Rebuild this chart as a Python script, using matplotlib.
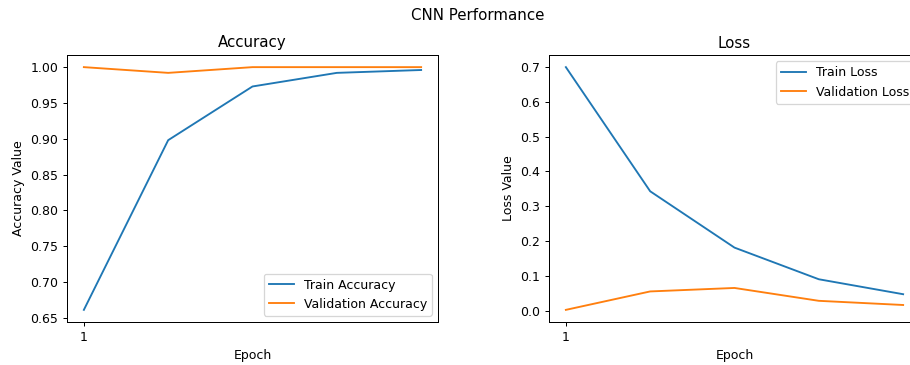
import matplotlib
matplotlib.use("Agg")
import matplotlib.pyplot as plt

epochs = [1, 2, 3, 4, 5]
train_acc = [0.661, 0.898, 0.973, 0.992, 0.996]
val_acc = [1.000, 0.992, 1.000, 1.000, 1.000]
train_loss = [0.700, 0.343, 0.181, 0.090, 0.047]
val_loss = [0.002, 0.055, 0.065, 0.028, 0.016]
xtick_vals = [1]

dpi = 90
fig = plt.figure(figsize=(910 / dpi, 365 / dpi), dpi=dpi)
ax1 = fig.add_axes([67 / 910, 43 / 365, 371 / 910, 267 / 365])
ax2 = fig.add_axes([549 / 910, 43 / 365, 371 / 910, 267 / 365])

fig.suptitle("CNN Performance", x=0.525, y=1 - 15 / 365, va="center")

ax1.plot(epochs, train_acc, label="Train Accuracy")
ax1.plot(epochs, val_acc, label="Validation Accuracy")
ax1.set_xticks(xtick_vals)
ax1.set_ylabel("Accuracy Value")
ax1.set_xlabel("Epoch")
ax1.set_title("Accuracy")
ax1.legend(loc="lower right")

ax2.plot(epochs, train_loss, label="Train Loss")
ax2.plot(epochs, val_loss, label="Validation Loss")
ax2.set_xticks(xtick_vals)
ax2.set_ylabel("Loss Value")
ax2.set_xlabel("Epoch")
ax2.set_title("Loss")
ax2.legend(loc="upper right")

fig.savefig("out.png", dpi=dpi)
